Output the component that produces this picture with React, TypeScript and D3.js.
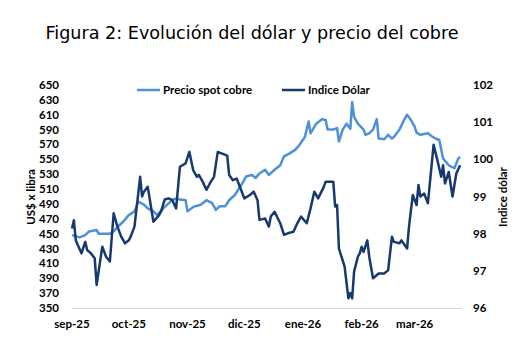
import React, { useEffect, useRef } from "react";
import * as d3 from "d3";

// dias desde el 1 de septiembre de 2025
const startDate = new Date(2025, 8, 1);

const copperDays = [0, 4, 7, 9, 13, 14, 20, 22, 24, 27, 30, 33, 35, 38, 40, 43, 45, 46, 49, 52, 54, 57, 60, 61, 64, 68, 71, 74, 76, 78, 81, 83, 86, 90, 92, 95, 97, 99, 102, 104, 107, 110, 112, 115, 118, 120, 123, 125, 126, 129, 132, 134, 135, 138, 140, 141, 143, 145, 147, 148, 149, 151, 154, 155, 157, 159, 161, 162, 165, 167, 169, 170, 173, 175, 177, 179, 181, 182, 184, 188, 190, 192, 194, 196, 199, 202, 204, 205];
const copperValues = [448, 445, 448, 453, 455, 450, 450, 453, 459, 466, 475, 480, 493, 489, 484, 480, 475, 478, 486, 493, 497, 496, 495, 480, 486, 489, 495, 491, 482, 487, 487, 495, 502, 518, 527, 529, 525, 531, 536, 529, 536, 542, 554, 558, 563, 569, 580, 601, 585, 598, 604, 603, 590, 590, 592, 574, 590, 598, 591, 627, 607, 598, 590, 583, 585, 590, 604, 578, 577, 583, 578, 580, 590, 601, 610, 603, 594, 586, 583, 585, 581, 578, 576, 551, 542, 538, 551, 553];

const dollarDays = [0, 1, 2, 3, 5, 7, 8, 10, 12, 13, 16, 18, 20, 22, 24, 26, 28, 30, 31, 33, 36, 37, 38, 40, 41, 43, 46, 47, 49, 51, 53, 55, 57, 60, 62, 64, 66, 67, 69, 71, 73, 75, 77, 79, 82, 83, 85, 87, 89, 91, 94, 96, 98, 99, 102, 104, 105, 107, 110, 112, 114, 117, 119, 121, 124, 126, 128, 130, 133, 134, 138, 139, 140, 141, 144, 146, 147, 148, 149, 151, 152, 153, 154, 156, 157, 159, 162, 165, 167, 169, 170, 173, 174, 177, 178, 180, 182, 183, 184, 186, 188, 191, 193, 195, 196, 197, 199, 201, 203, 205];
const dollarValues = [98.14, 98.36, 97.82, 97.7, 97.47, 97.78, 97.56, 97.47, 97.34, 96.62, 97.65, 97.38, 97.25, 98.55, 98.19, 97.92, 97.74, 97.82, 97.92, 98.19, 99.53, 99.0, 99.13, 99.26, 98.95, 98.32, 98.5, 98.59, 98.92, 98.95, 98.9, 98.68, 99.8, 99.89, 100.2, 99.71, 99.53, 99.58, 99.4, 99.18, 99.37, 99.53, 100.2, 100.16, 100.1, 99.58, 99.44, 99.48, 99.22, 98.95, 99.04, 99.13, 98.9, 98.37, 98.41, 98.19, 98.46, 98.59, 98.28, 97.97, 98.01, 98.05, 98.28, 98.46, 98.28, 98.68, 99.13, 98.95, 99.26, 99.4, 99.4, 98.73, 98.77, 97.6, 97.11, 96.26, 96.4, 96.26, 96.98, 97.38, 97.47, 97.65, 97.51, 97.82, 97.38, 96.8, 96.93, 96.93, 97.02, 97.92, 97.78, 97.74, 97.82, 97.6, 98.19, 99.04, 98.77, 99.31, 99.0, 99.08, 98.82, 100.39, 99.98, 99.53, 99.84, 99.35, 99.66, 99.0, 99.62, 99.84];

const monthLabels = ["sep-25", "oct-25", "nov-25", "dic-25", "ene-26", "feb-26", "mar-26"];
const leftTicks = [350, 370, 390, 410, 430, 450, 470, 490, 510, 530, 550, 570, 590, 610, 630, 650];
const rightTicks = [96, 97, 98, 99, 100, 101, 102];

const W = 531, H = 363;
const copperColor = "#4d91d8";
const dollarColor = "#163a6e";
const lblFont = "Lato, 'Open Sans', sans-serif";

function App() {
  const ref = useRef<SVGSVGElement>(null);

  useEffect(() => {
    const svg = d3.select(ref.current);
    svg.selectAll("*").remove();

    const x = d3.scaleTime()
      .domain([startDate, d3.timeDay.offset(startDate, 206)])
      .range([72, 462]);
    const yL = d3.scaleLinear().domain([350, 650]).range([308, 85]);
    const yR = d3.scaleLinear().domain([96, 102]).range([308, 85]);

    svg.append("text")
      .attr("x", 252).attr("y", 39)
      .attr("text-anchor", "middle")
      .style("font-family", "'DejaVu Sans', Verdana, sans-serif")
      .style("font-size", "17.6px")
      .attr("fill", "#000")
      .text("Figura 2: Evolución del dólar y precio del cobre");

    // eje x
    svg.append("line")
      .attr("x1", 72).attr("x2", 462)
      .attr("y1", 308.5).attr("y2", 308.5)
      .attr("stroke", "#d9d9d9").attr("stroke-width", 1);

    const monthStarts = d3.timeMonth.range(startDate, d3.timeDay.offset(startDate, 206));
    svg.append("g").selectAll("text").data(monthStarts).enter().append("text")
      .attr("x", d => x(d))
      .attr("y", 328)
      .attr("text-anchor", "middle")
      .style("font-family", lblFont).style("font-weight", "bold").style("font-size", "11.5px")
      .text((d, i) => monthLabels[i]);

    svg.append("g").selectAll("text").data(leftTicks).enter().append("text")
      .attr("x", 59).attr("y", d => yL(d) + 4)
      .attr("text-anchor", "end")
      .style("font-family", lblFont).style("font-weight", "bold").style("font-size", "11.5px")
      .text(d => d);

    svg.append("g").selectAll("text").data(rightTicks).enter().append("text")
      .attr("x", 473).attr("y", d => yR(d) + 4)
      .attr("text-anchor", "start")
      .style("font-family", lblFont).style("font-weight", "bold").style("font-size", "11.5px")
      .text(d => d);

    svg.append("text")
      .attr("transform", "translate(35,197) rotate(-90)")
      .attr("text-anchor", "middle")
      .style("font-family", lblFont).style("font-weight", "bold").style("font-size", "11.5px")
      .text("US$ x libra");

    svg.append("text")
      .attr("transform", "translate(507,197) rotate(-90)")
      .attr("text-anchor", "middle")
      .style("font-family", lblFont).style("font-weight", "bold").style("font-size", "11.5px")
      .text("Indice dólar");

    const copperLine = d3.line<number>()
      .x((d, i) => x(d3.timeDay.offset(startDate, copperDays[i])))
      .y(d => yL(d));
    const dollarLine = d3.line<number>()
      .x((d, i) => x(d3.timeDay.offset(startDate, dollarDays[i])))
      .y(d => yR(d));

    svg.append("path").datum(copperValues)
      .attr("d", copperLine)
      .attr("fill", "none").attr("stroke", copperColor)
      .attr("stroke-width", 2.5).attr("stroke-linejoin", "round");

    svg.append("path").datum(dollarValues)
      .attr("d", dollarLine)
      .attr("fill", "none").attr("stroke", dollarColor)
      .attr("stroke-width", 2.5).attr("stroke-linejoin", "round");

    // leyenda
    const legend = [
      { name: "Precio spot cobre", color: copperColor, x: 137 },
      { name: "Indice Dólar", color: dollarColor, x: 282 },
    ];
    const lg = svg.append("g").selectAll("g").data(legend).enter().append("g");
    lg.append("line")
      .attr("x1", d => d.x).attr("x2", d => d.x + 23)
      .attr("y1", 90).attr("y2", 90)
      .attr("stroke", d => d.color).attr("stroke-width", 2.5);
    lg.append("text")
      .attr("x", d => d.x + 26).attr("y", 94)
      .style("font-family", lblFont).style("font-weight", "bold").style("font-size", "11.5px")
      .text(d => d.name);
  }, []);

  return (
    <svg ref={ref} width={W} height={H}
      style={{ position: "absolute", left: 0, top: 0, background: "#fff" }} />
  );
}

export default App;
